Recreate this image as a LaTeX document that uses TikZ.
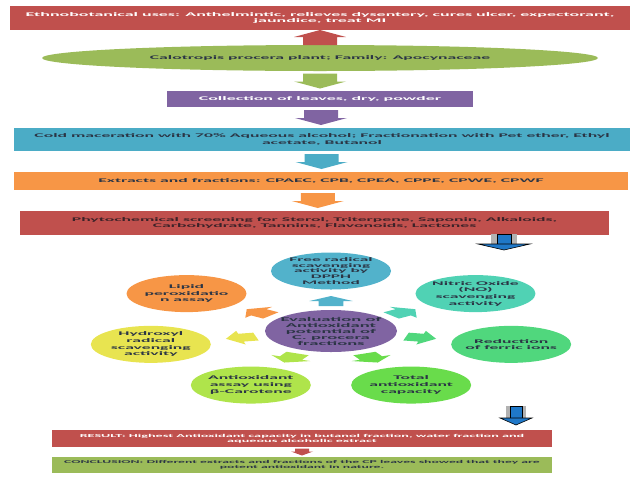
\documentclass[tikz,border=0pt]{standalone}
\usepackage{fontspec}
\setmainfont{Carlito}[FakeStretch=3.15]
\newfontfamily\wideB{Carlito}[FakeStretch=3.2]
\usetikzlibrary{shapes.geometric,calc}
\definecolor{cRed}{HTML}{C0504D}
\definecolor{cGreen}{HTML}{9BBB59}
\definecolor{cPurp}{HTML}{8064A2}
\definecolor{cBlue}{HTML}{4BACC6}
\definecolor{cOra}{HTML}{F79646}
\definecolor{cTxt}{HTML}{2B3545}
\definecolor{cTxtR}{HTML}{3B2228}
\definecolor{cDeep}{HTML}{1F78C8}
\definecolor{sA}{HTML}{52B2CB}
\definecolor{sB}{HTML}{50D2B4}
\definecolor{sC}{HTML}{50D77D}
\definecolor{sD}{HTML}{69DC4B}
\definecolor{sE}{HTML}{AFE44B}
\definecolor{sF}{HTML}{E8E450}
\definecolor{sG}{HTML}{F79646}
\tikzset{
  ba sw/.store in=\basw, ba hw/.store in=\bahw, ba sl/.store in=\basl, ba hl/.store in=\bahl,
  ba sw=17, ba hw=26, ba sl=8, ba hl=7,
  blockarrow/.pic={
    \path[pic actions] (-\basw,{(\basl+\bahl)/2}) -- (\basw,{(\basl+\bahl)/2})
      -- (\basw,{(\basl+\bahl)/2-\basl}) -- (\bahw,{(\basl+\bahl)/2-\basl})
      -- (0,{-(\basl+\bahl)/2}) -- (-\bahw,{(\basl+\bahl)/2-\basl})
      -- (-\basw,{(\basl+\bahl)/2-\basl}) -- cycle;
  },
  radarrow/.pic={
    \path[pic actions] (-5,-4) -- (0,-4) -- (0,-7) -- (5,0) -- (0,7) -- (0,4) -- (-5,4) -- cycle;
  },
  bo/.store in=\bbo, bi/.store in=\bbi, bh/.store in=\bbh, bs/.store in=\bbs, bhl/.store in=\bbhl,
  bo=10, bi=6, bh=16, bs=12, bhl=7,
  bluearrow/.pic={
    \fill[gray!60] (-\bbo,0) rectangle (\bbo,-\bbs);
    \fill[cDeep, draw=black, line width=0.5pt] (-\bbi,0) rectangle (\bbi,-\bbs);
    \draw[black, line width=0.6pt, fill=cDeep] (-\bbh,-\bbs) -- (\bbh,-\bbs) -- (0,-\bbs-\bbhl) -- cycle;
  },
}
\begin{document}
\begin{tikzpicture}[x=1pt,y=1pt,
  box/.style={rectangle, inner sep=0pt, align=center},
  fmain/.style={font=\fontsize{5.6}{6.4}\selectfont\bfseries},
  fwide/.style={font=\wideB\fontsize{5.6}{6.6}\selectfont\bfseries},
  fsmall/.style={font=\fontsize{4.5}{5.3}\selectfont\bfseries},
  fsmaller/.style={font=\fontsize{4.35}{5.2}\selectfont\bfseries},
  fcirc/.style={font=\fontsize{5.6}{6.6}\selectfont\bfseries, text=cTxt, align=center},
  fcircfive/.style={font=\fontsize{5.5}{5.9}\selectfont\bfseries, text=cTxt, align=center},
  fcent/.style={font=\fontsize{5.9}{6.0}\selectfont\bfseries, text=cTxt, align=center},
  sat/.style={ellipse, inner sep=0pt, minimum width=120pt, minimum height=37pt},
]
\useasboundingbox (0,0) rectangle (640,-480);

% main flow boxes
\node[box, fwide, fill=cRed, text=white, minimum width=620pt, minimum height=24pt] (eth) at (320,-18)
  {Ethnobotanical uses: Anthelmintic, relieves dysentery, cures ulcer, expectorant,\\jaundice, treat MI};
\node[ellipse, fill=cGreen, inner sep=0pt, minimum width=556pt, minimum height=26pt,
  label={[fmain, text=cTxt]center:{Calotropis procera plant; Family: Apocynaceae}}] (plant) at (320,-58) {};
\node[box, fwide, fill=cPurp, text=white, minimum width=306pt, minimum height=16pt] (coll) at (320,-99)
  {Collection of leaves, dry, powder};
\node[box, fmain, fill=cBlue, text=cTxt, minimum width=616pt, minimum height=23pt] (cold) at (322,-139.5)
  {Cold maceration with 70\% Aqueous alcohol; Fractionation with Pet ether, Ethyl\\acetate, Butanol};
\node[box, fmain, fill=cOra, text=cTxt, minimum width=614pt, minimum height=18pt] (extr) at (321,-181)
  {Extracts and fractions: CPAEC, CPB, CPEA, CPPE, CPWE, CPWF};
\node[box, fmain, fill=cRed, text=cTxtR, minimum width=589pt, minimum height=24pt] (phyto) at (314.5,-223)
  {Phytochemical screening for Sterol, Triterpene, Saponin, Alkaloids,\\Carbohydrate, Tannins, Flavonoids, Lactones};
\node[box, fsmall, fill=cRed, text=white, minimum width=500pt, minimum height=17pt] (res) at (302,-438.5)
  {RESULT: Highest Antioxidant capacity in butanol fraction, water fraction and\\aqueous alcoholic extract};
\node[box, fsmaller, fill=cGreen, text=cTxt, minimum width=500pt, minimum height=16pt] (conc) at (302,-465)
  {CONCLUSION: Different extracts and fractions of the CP leaves showed that they are\\potent antioxidant in nature.};

% block arrows between boxes
\pic[fill=cRed, rotate=180] at ($(eth.south)!0.5!(plant.north)$) {blockarrow};
\pic[fill=cGreen] at ($(plant.south)!0.5!(coll.north)$) {blockarrow};
\pic[fill=cPurp] at ($(coll.south)!0.5!(cold.north)$) {blockarrow};
\pic[fill=cBlue] at ($(cold.south)!0.5!(extr.north)$) {blockarrow};
\pic[fill=cOra] at ($(extr.south)!0.5!(phyto.north)$) {blockarrow};
\pic[fill=cRed, ba sw=7, ba hw=11, ba sl=3, ba hl=4] at ($(res.south)!0.5!(conc.north)$) {blockarrow};

% blue connectors
\coordinate (b1) at (504,-234);
\coordinate (b2) at (516,-406);
\pic[bo=13, bi=7, bh=26, bs=10, bhl=6] at (b1) {bluearrow};
\pic at (b2) {bluearrow};

% radial cluster
\begin{scope}[shift={(331,-331)}, xscale=3.08]
  \pic[fill=sA, transform shape, rotate=90] at (90:30) {radarrow};
  \pic[fill=sB, transform shape, rotate=38.57] at (38.57:30) {radarrow};
  \pic[fill=sC, transform shape, rotate=-12.86] at (-12.86:30) {radarrow};
  \pic[fill=sD, transform shape, rotate=-64.29] at (-64.29:30) {radarrow};
  \pic[fill=sE, transform shape, rotate=-115.71] at (-115.71:30) {radarrow};
  \pic[fill=sF, transform shape, rotate=-167.14] at (-167.14:30) {radarrow};
  \pic[fill=sG, transform shape, rotate=141.43] at (141.43:30) {radarrow};
  \node[ellipse, fill=cPurp, inner sep=0pt, minimum width=132pt, minimum height=42pt,
    label={[fcent]center:{Evaluation of\\Antioxidant\\potential of\\C. procera\\fractions}}] (eval) at (0,0) {};
  \node[sat, fill=sA, label={[fcircfive]center:{Free radical\\scavenging\\activity by\\DPPH\\Method}}] (s0) at (90:60) {};
  \node[sat, fill=sB, label={[fcirc]center:{Nitric Oxide\\(NO)\\scavenging\\activity}}] (s1) at (38.57:60) {};
  \node[sat, fill=sC, label={[fcirc]center:{Reduction\\of ferric ions}}] (s2) at (-12.86:60) {};
  \node[sat, fill=sD, label={[fcirc]center:{Total\\antioxidant\\capacity}}] (s3) at (-64.29:60) {};
  \node[sat, fill=sE, label={[fcirc]center:{Antioxidant\\assay using\\β-Carotene}}] (s4) at (-115.71:60) {};
  \node[sat, fill=sF, label={[fcirc]center:{Hydroxyl\\radical\\scavenging\\activity}}] (s5) at (-167.14:60) {};
  \node[sat, fill=sG, label={[fcirc]center:{Lipid\\peroxidatio\\n assay}}] (s6) at (141.43:60) {};
\end{scope}
\end{tikzpicture}
\end{document}
